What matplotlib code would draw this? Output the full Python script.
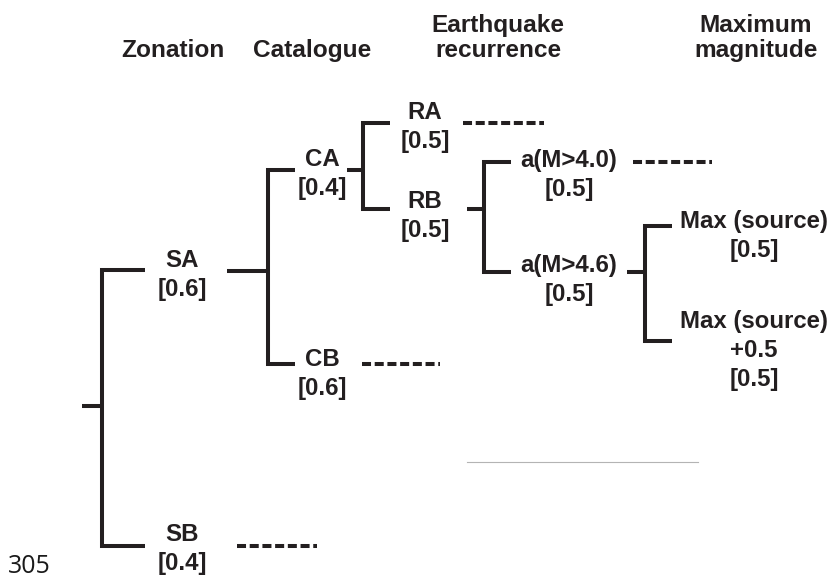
import matplotlib
matplotlib.use("Agg")
import matplotlib.pyplot as plt

plt.rcParams["lines.scale_dashes"] = False

# ---------------- data ----------------
headers = ["Zonation", "Catalogue", "Earthquake\nrecurrence", "Maximum\nmagnitude"]

zonation = ["SA", "SB"]
zonation_w = [0.6, 0.4]
catalogue = ["CA", "CB"]
catalogue_w = [0.4, 0.6]
recurrence_model = ["RA", "RB"]
recurrence_model_w = [0.5, 0.5]
activity_rate = ["a(M>4.0)", "a(M>4.6)"]
activity_rate_w = [0.5, 0.5]
max_magnitude = ["Max (source)", "Max (source)\n+0.5"]
max_magnitude_w = [0.5, 0.5]

levels = [
    (zonation, zonation_w),
    (catalogue, catalogue_w),
    (recurrence_model, recurrence_model_w),
    (activity_rate, activity_rate_w),
    (max_magnitude, max_magnitude_w),
]
# which branch of each level is expanded to the next level (None = last level)
expanded = [0, 0, 1, 1, None]
page_number = "305"

# ---------------- layout (image pixel units) ----------------
W, H = 834, 580
LINE_C = "#231f20"
LW = 2.9
FS = 17.3          # node label font size (pt)
HFS = 17.6         # header font size (pt)
LINE_SP = 29       # pixel spacing between label lines

# per level: (stub start x, vertical x, branch end x, label centre x, dash x0, dash x1)
lvl_x = [
    (82, 102, 145.5, 182, 237, 317.5),
    (227, 268, 295, 322, 362, 440),
    (347, 363, 390, 425, 463, 544),
    (467, 484, 511, 569, 633, 712),
    (627, 645.5, 672, 754, None, None),
]
# per level: y of the two branches, stub y
lvl_y = [
    (270, 546, 406),
    (170, 364, 271),
    (123, 209, 170),
    (162, 272, 209),
    (226.3, 341.3, 272),
]
# label baseline of first line relative to branch y
label_dy = [
    (-3, -5),
    (-4, 2),
    (-4, -1),
    (5, 0),
    (2, -13),
]
header_x = [173, 312, 498, 756]
header_base = [57, 32]

fig = plt.figure(figsize=(W / 100, H / 100), dpi=100)
ax = fig.add_axes([0, 0, 1, 1])
ax.set_xlim(0, W)
ax.set_ylim(H, 0)
ax.axis("off")

font = dict(family=["Liberation Sans", "DejaVu Sans"], fontweight="bold", color=LINE_C)

# headers
for hx, h in zip(header_x, headers):
    parts = h.split("\n")
    if len(parts) == 1:
        ax.text(hx, header_base[0], parts[0], ha="center", va="baseline", fontsize=HFS, **font)
    else:
        for i, p in enumerate(parts):
            ax.text(hx, header_base[1] + 25 * i, p, ha="center", va="baseline", fontsize=HFS, **font)

# tree
for li, ((names, weights), (xs, xv, xe, xl, dx0, dx1), (y0, y1, ys), dys) in enumerate(
        zip(levels, lvl_x, lvl_y, label_dy)):
    ax.plot([xs, xv], [ys, ys], color=LINE_C, lw=LW, solid_capstyle="butt")
    ax.plot([xe, xv, xv, xe], [y0, y0, y1, y1], color=LINE_C, lw=LW,
            solid_capstyle="butt", solid_joinstyle="miter")
    for bi, (nm, w, by, dy) in enumerate(zip(names, weights, (y0, y1), dys)):
        lines = nm.split("\n") + [f"[{w}]"]
        for k, t in enumerate(lines):
            ax.text(xl, by + dy + LINE_SP * k, t, ha="center", va="baseline", fontsize=FS, **font)
        if expanded[li] is not None and bi != expanded[li]:
            ax.plot([dx0, dx1], [by, by], color=LINE_C, lw=LW, linestyle=(0, (6.5, 2.65)),
                    dash_capstyle="butt")

# thin grey rule
ax.plot([467, 698], [462, 462], color="#b4b4b4", lw=0.8)

# page number
ax.text(8, 579, page_number, ha="left", va="bottom", fontsize=18,
        family=["Open Sans", "DejaVu Sans"], color="#1a1a1a")

fig.savefig("out.png", dpi=100)
